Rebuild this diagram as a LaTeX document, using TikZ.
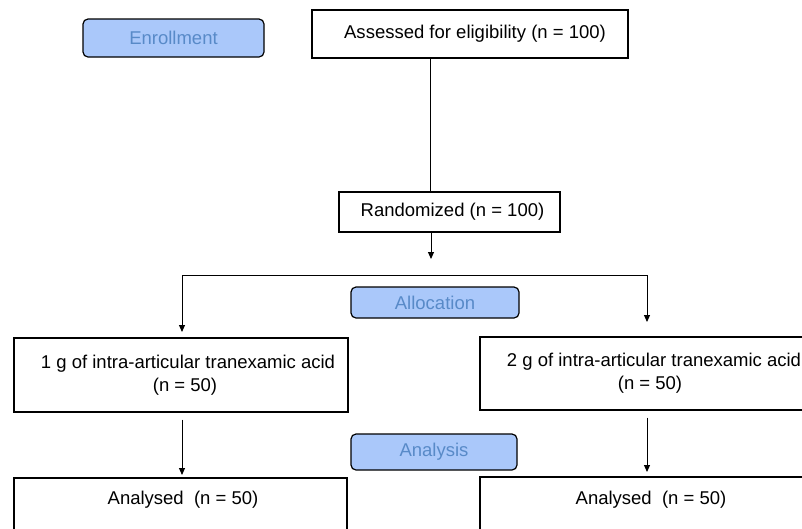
\documentclass[tikz,border=0pt]{standalone}
\usepackage{fontspec}
\setmainfont{Liberation Sans}
\usetikzlibrary{arrows.meta}
\definecolor{phasefill}{RGB}{170,200,250}
\definecolor{phasetext}{RGB}{88,138,200}
\tikzset{
  box/.style={draw=black, line width=1.2pt, fill=white, inner sep=0pt, font=\fontsize{18.5}{22}\selectfont, align=center},
  phase/.style={draw=black, line width=1.2pt, fill=phasefill, rounded corners=5pt, inner sep=0pt, text=phasetext, font=\fontsize{18.5}{22}\selectfont},
  txt/.style={inner sep=0pt, font=\fontsize{18.5}{22}\selectfont, align=center},
  conn/.style={line width=1pt},
  arr/.style={line width=1pt, -{Triangle[length=7pt,width=6pt]}}
}
\begin{document}
\begin{tikzpicture}[x=1pt,y=-1pt]
\useasboundingbox (0,0) rectangle (802,528);
\clip (0,0) rectangle (802,528);
\fill[white] (0,0) rectangle (802,528);
% phase labels
\node[phase, minimum width=181pt, minimum height=38pt] (enr) at (173.5,38) {Enrollment};
\node[phase, minimum width=168pt, minimum height=31pt] (alloc) at (435,302.5) {Allocation};
\node[phase, minimum width=166pt, minimum height=36pt] (anal) at (434,452) {Analysis};
% boxes
\node[box, minimum width=316pt, minimum height=48pt] (assess) at (470,34) {\hspace*{10pt}Assessed for eligibility (n = 100)};
\node[box, minimum width=221pt, minimum height=40pt] (rand) at (449.5,212) {\hspace*{6pt}Randomized (n = 100)};
\node[box, minimum width=334pt, minimum height=74pt] (g1) at (181,375) {\hspace*{14pt}1 g of intra-articular tranexamic acid\\[1pt]\hspace*{8pt}(n = 50)};
\node[box, minimum width=334pt, minimum height=73pt] (g2) at (647,373.5) {\hspace*{14pt}2 g of intra-articular tranexamic acid\\[1pt]\hspace*{6pt}(n = 50)};
\node[box, minimum width=333pt, minimum height=82pt] (a1) at (180.5,519) {};
\node[box, minimum width=334pt, minimum height=82pt] (a2) at (647,518) {};
\node[txt] (a1t) at (183,500) {Analysed\ \ (n = 50)};
\node[txt] (a2t) at (651,500) {Analysed\ \ (n = 50)};
% connectors
\coordinate (vx) at (430,0);
\coordinate (r1) at (431,259);
\coordinate (hl) at (182,275);
\coordinate (hr) at (647,275);
\coordinate (tl) at (182,332);
\coordinate (tr) at (647,322);
\coordinate (bl) at (182,475);
\coordinate (br) at (647,472);
\draw[conn] (vx |- assess.south) -- (vx |- rand.north);
\draw[arr] (r1 |- rand.south) -- (r1);
\draw[conn] (hl) -- (hr);
\draw[arr] (hl) -- (tl);
\draw[arr] (hr) -- (tr);
\draw[arr] (bl |- g1.south) ++(0,7) -- (bl);
\draw[arr] (br |- g2.south) ++(0,7) -- (br);
\end{tikzpicture}
\end{document}
